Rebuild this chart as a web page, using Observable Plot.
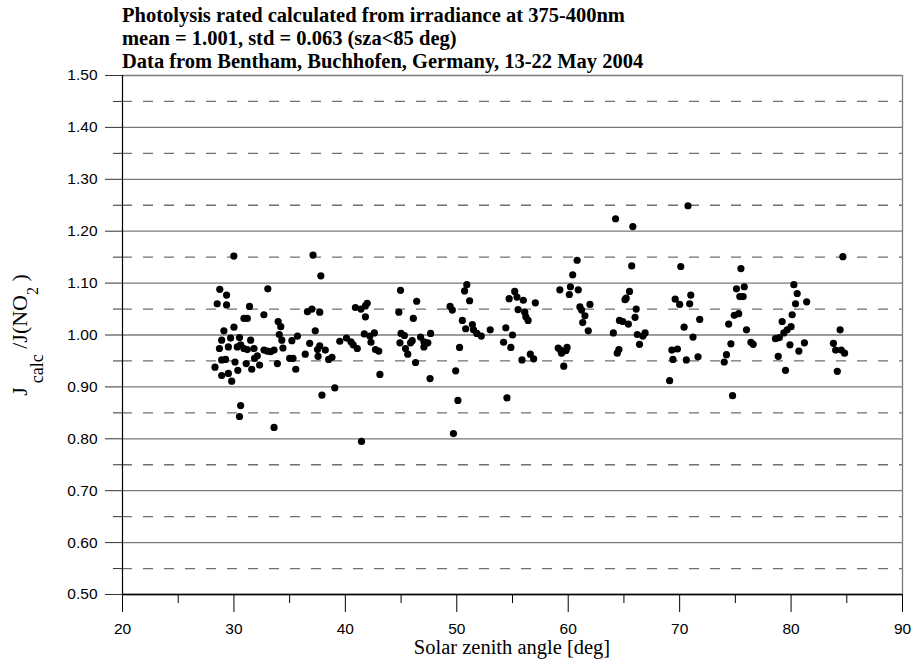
<!DOCTYPE html>
<html>
<head>
<meta charset="utf-8">
<script src="https://cdn.jsdelivr.net/npm/d3@7"></script>
<script src="https://cdn.jsdelivr.net/npm/@observablehq/plot@0.6"></script>
<style>
  html, body { margin: 0; padding: 0; background: white; }
  #wrap { position: relative; width: 911px; height: 662px; }
  #title { position: absolute; left: 122px; top: 4px; font-family: "Liberation Serif", "Times New Roman", serif; font-weight: bold; font-size: 20.5px; line-height: 23px; color: black; white-space: nowrap; z-index: 2; }
  #chart { position: absolute; left: 0; top: 0; }
</style>
</head>
<body>
<div id="wrap">
  <div id="title"></div>
  <div id="chart"></div>
</div>
<script>
const titleLines = [
  "Photolysis rated calculated from irradiance at 375-400nm",
  "mean = 1.001, std = 0.063 (sza<85 deg)",
  "Data from Bentham, Buchhofen, Germany, 13-22 May 2004"
];
const xLabel = "Solar zenith angle [deg]";

const xMajorTicks = [20, 30, 40, 50, 60, 70, 80, 90];
const xMinorTicks = [25, 35, 45, 55, 65, 75, 85];
const yMajorTicks = [0.5, 0.6, 0.7, 0.8, 0.9, 1.0, 1.1, 1.2, 1.3, 1.4, 1.5];
const yMinorTicks = [0.55, 0.65, 0.75, 0.85, 0.95, 1.05, 1.15, 1.25, 1.35, 1.45];

const sza = [
  29.99, 28.73, 29.34, 28.5, 29.34, 33.04, 31.4, 32.69, 30.9, 31.2, 33.97, 34.2, 30.0, 29.1, 34.07, 35.7,
  28.9, 29.7, 30.5, 31.5, 34.3, 35.2, 28.7, 29.5, 30.3, 30.6, 30.9, 31.2, 31.8, 32.7, 33.0, 33.3, 33.6, 34.4,
  28.9, 29.25, 30.1, 31.1, 31.85, 32.1, 32.3, 33.9, 35.0, 35.3, 35.55, 28.3, 28.9, 29.5, 29.8, 30.35, 31.6,
  30.6, 30.5, 33.6,
  37.1, 37.8, 36.6, 37.0, 37.7, 37.3, 36.8, 37.7, 37.5, 38.2, 37.55, 38.8, 38.5, 36.4, 37.9, 39.05, 41.45,
  39.5, 40.1, 40.5, 40.7, 41.07, 40.9, 41.4, 41.8, 41.96, 41.8, 41.7, 42.2, 42.6, 42.3, 42.7, 43.0, 43.1,
  44.95, 44.8, 45.0, 45.3, 44.9, 45.4, 45.85, 46.0, 45.6, 46.3, 46.4, 46.1, 46.75, 47.05, 47.4, 47.65, 47.05, 47.6,
  49.4, 49.6, 50.9, 50.7, 51.15, 50.5, 50.8, 51.4, 51.5, 51.8, 52.2, 53.0, 50.25, 49.9, 50.1, 49.7,
  54.4, 55.0, 54.2, 54.85, 54.7, 55.2, 55.4, 55.97, 55.5, 56.1, 56.4, 56.2, 57.05, 55.85, 56.6, 56.9, 54.5,
  59.25, 60.4, 60.8, 60.1, 60.2, 60.9, 61.05, 61.2, 61.5, 61.3, 61.8, 61.95, 59.1, 59.4, 59.8, 59.9, 59.6, 59.3,
  64.25, 65.8, 65.7, 65.5, 65.1, 65.2, 66.1, 66.0, 64.6, 64.9, 65.4, 64.05, 66.2, 66.7, 66.9, 66.4, 64.4, 64.55,
  69.6, 70.1, 70.0, 69.3, 69.8, 69.4, 69.1,
  70.75, 70.9, 71.0, 70.4, 71.2, 71.8, 70.6, 71.65,
  74.4, 74.0, 74.2, 74.6, 74.75, 74.9, 75.3, 75.5, 75.1, 75.8, 75.4, 75.7, 76.0, 76.4, 76.6,
  80.25, 80.55, 80.4, 81.4, 80.1, 79.2, 80.0, 79.65, 79.35, 78.95, 78.6, 79.9, 81.2, 80.7, 78.85, 79.5,
  84.65, 84.4, 83.8, 84.0, 84.5, 84.8, 84.15
];
const ratio = [
  1.152, 1.088, 1.077, 1.060, 1.058, 1.089, 1.055, 1.039, 1.032, 1.032, 1.026, 1.016, 1.015, 1.008, 1.001, 0.998,
  0.990, 0.994, 0.995, 0.990, 0.990, 0.989, 0.974, 0.977, 0.977, 0.981, 0.974, 0.972, 0.974, 0.971, 0.969, 0.968, 0.971, 0.975,
  0.952, 0.953, 0.948, 0.945, 0.955, 0.960, 0.942, 0.945, 0.955, 0.955, 0.934, 0.938, 0.922, 0.926, 0.911, 0.932, 0.934,
  0.864, 0.843, 0.822,
  1.154, 1.114, 1.045, 1.050, 1.044, 1.008, 0.984, 0.979, 0.972, 0.971, 0.959, 0.957, 0.953, 0.963, 0.884, 0.898, 0.795,
  0.988, 0.994, 0.987, 0.981, 0.974, 1.053, 1.050, 1.056, 1.061, 1.035, 1.002, 0.998, 1.004, 0.986, 0.972, 0.969, 0.924,
  1.086, 1.044, 1.003, 0.999, 0.985, 0.974, 0.985, 0.989, 0.963, 0.947, 1.065, 1.032, 0.996, 0.987, 0.985, 1.003, 0.977, 0.916,
  1.055, 1.048, 1.097, 1.085, 1.066, 1.028, 1.012, 1.020, 1.010, 1.003, 0.998, 1.010, 0.976, 0.931, 0.874, 0.810,
  1.014, 1.000, 0.986, 0.976, 1.070, 1.084, 1.073, 1.067, 1.049, 1.044, 1.028, 1.035, 1.062, 0.952, 0.963, 0.954, 0.879,
  1.087, 1.116, 1.144, 1.078, 1.093, 1.087, 1.054, 1.048, 1.037, 1.024, 1.008, 1.059, 0.975, 0.965, 0.970, 0.976, 0.940, 0.971,
  1.224, 1.209, 1.133, 1.084, 1.068, 1.071, 1.050, 1.034, 1.028, 1.026, 1.021, 1.004, 1.001, 0.998, 1.004, 0.982, 0.965, 0.972,
  1.069, 1.132, 1.059, 0.971, 0.973, 0.953, 0.912,
  1.249, 1.060, 1.077, 1.015, 0.996, 1.030, 0.952, 0.958,
  1.021, 0.948, 0.962, 0.983, 0.883, 1.038, 1.041, 1.128, 1.089, 1.093, 1.074, 1.074, 1.010, 0.986, 0.982,
  1.097, 1.080, 1.060, 1.064, 1.039, 1.026, 1.016, 1.010, 1.004, 0.995, 0.993, 0.981, 0.985, 0.969, 0.959, 0.932,
  1.151, 1.010, 0.984, 0.971, 0.971, 0.965, 0.930
];

const data = sza.map((s, i) => ({sza: s, r: ratio[i]}));
const xDom = [xMajorTicks[0], xMajorTicks[xMajorTicks.length - 1]];
const yDom = [yMajorTicks[0], yMajorTicks[yMajorTicks.length - 1]];

document.getElementById("title").innerHTML = titleLines.join("<br>");

const chart = Plot.plot({
  width: 911,
  height: 662,
  marginTop: 75,
  marginBottom: 68,
  marginLeft: 122,
  marginRight: 9,
  style: {fontFamily: "'Liberation Sans', Arial, sans-serif", fontSize: "15.5px", background: "white", color: "black"},
  x: {domain: xDom},
  y: {domain: yDom},
  marks: [
    Plot.ruleY(yMinorTicks, {stroke: "#707070", strokeWidth: 1.3, strokeDasharray: "10,11"}),
    Plot.ruleY(yMajorTicks, {stroke: "#7a7a7a", strokeWidth: 1.3}),
    Plot.ruleX([xDom[1]], {stroke: "#7a7a7a", strokeWidth: 1.3}),
    Plot.ruleX([xDom[0]], {stroke: "black", strokeWidth: 1.2}),
    Plot.ruleY([yDom[0]], {stroke: "black", strokeWidth: 1.3}),
    Plot.axisY({ticks: yMajorTicks, tickSize: 17, tickPadding: 8, tickFormat: d3.format(".2f"), label: null, stroke: "#333"}),
    Plot.axisY({ticks: yMinorTicks, tickSize: 9, tickFormat: () => "", label: null, stroke: "#333"}),
    Plot.axisX({ticks: xMajorTicks, tickSize: 18, tickPadding: 10, tickFormat: d3.format("d"), label: null}),
    Plot.axisX({ticks: xMinorTicks, tickSize: 9, tickFormat: () => "", label: null}),
    Plot.dot(data, {x: "sza", y: "r", r: 3.6, fill: "black", stroke: "none"})
  ]
});

const svg = d3.select(chart);
svg.append("text")
  .attr("x", (122 + 902) / 2)
  .attr("y", 654)
  .attr("text-anchor", "middle")
  .style("font-family", "'Liberation Serif', 'Times New Roman', serif")
  .style("font-size", "20.5px")
  .text(xLabel);

const yl = svg.append("text")
  .attr("transform", "translate(27,335) rotate(-90)")
  .attr("text-anchor", "middle")
  .style("font-family", "'Liberation Serif', 'Times New Roman', serif")
  .style("font-size", "22px");
yl.append("tspan").text("J");
yl.append("tspan").attr("dx", 4).attr("dy", 16).style("font-size", "18px").text("calc");
yl.append("tspan").attr("dy", -16).text(" /J(NO");
yl.append("tspan").attr("dy", 11).style("font-size", "16px").text("2");
yl.append("tspan").attr("dy", -11).text(" )");

document.getElementById("chart").appendChild(chart);
</script>
</body>
</html>
